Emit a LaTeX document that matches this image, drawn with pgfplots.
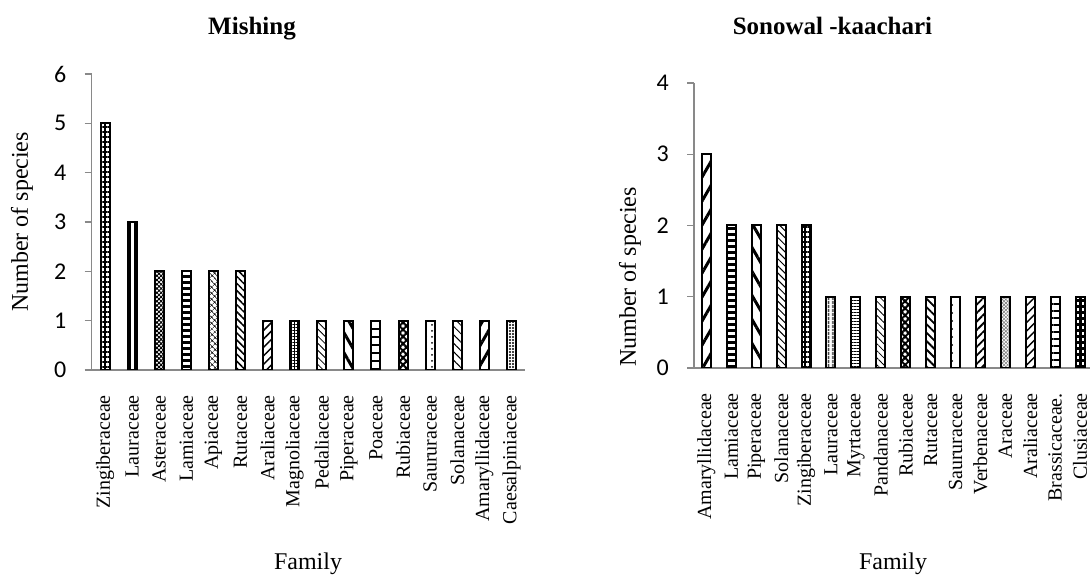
\documentclass[border=0pt]{standalone}
\usepackage{fontspec}
\setmainfont{Liberation Serif}
\newfontfamily\calibri{Carlito}
\usepackage{pgfplots}
\pgfplotsset{compat=1.18}
\usetikzlibrary{patterns,patterns.meta}
\definecolor{axgray}{HTML}{898989}
\pgfplotsset{
  barchart/.style={
    scale only axis,
    axis x line=bottom, axis y line=left,
    axis line style={draw=axgray, line width=1.3pt, -},
    ybar, bar width=9pt, bar shift=0pt,
    ymin=0,
    xmin=-0.5, xmax=15.5,
    xtick={0,...,15},
    xtick style={draw=none},
    ytick style={draw=axgray, line width=1.3pt},
    tick align=outside, major tick length=7pt,
    /pgf/number format/assume math mode=true,
    yticklabel style={font=\calibri\fontsize{24}{24}\selectfont, anchor=east, inner sep=0pt},
    yticklabel shift=18pt,
    xticklabel style={font=\fontsize{20}{20}\selectfont, rotate=90, anchor=east, inner sep=0pt},
    xticklabel shift=18pt,
    every axis plot/.append style={draw=black, line width=2pt},
  }
}
\begin{document}
\begin{tikzpicture}[x=1pt,y=1pt]
\useasboundingbox (0,0) rectangle (1090,577);
% ---------------- Mishing ----------------
\begin{axis}[barchart,
  at={(91.5pt,207pt)}, anchor=south west,
  width=433.5pt, height=296pt,
  ymax=6, ytick={0,1,2,3,4,5,6},
  xticklabels={Zingiberaceae,Lauraceae,Asteraceae,Lamiaceae,Apiaceae,Rutaceae,Araliaceae,Magnoliaceae,Pedaliaceae,Piperaceae,Poaceae,Rubiaceae,Saururaceae,Solanaceae,Amaryllidaceae,Caesalpiniaceae},
]
\addplot[pattern={Hatch[angle=0,distance=5pt,line width=2pt]}] coordinates {(0,5)};
\addplot[pattern={Lines[angle=90,distance=5pt,line width=1.5pt]}] coordinates {(1,3)};
\addplot[pattern={Hatch[angle=45,distance=3pt,line width=1pt]}] coordinates {(2,2)};
\addplot[pattern={Lines[angle=0,distance=6pt,line width=3pt]}] coordinates {(3,2)};
\addplot[pattern={Hatch[angle=45,distance=4pt,line width=0.6pt]}] coordinates {(4,2)};
\addplot[pattern={Lines[angle=-45,distance=5pt,line width=1.5pt]}] coordinates {(5,2)};
\addplot[pattern={Lines[angle=45,distance=6pt,line width=1.5pt]}] coordinates {(6,1)};
\addplot[pattern={Hatch[angle=0,distance=3pt,line width=1pt]}] coordinates {(7,1)};
\addplot[pattern={Lines[angle=-45,distance=5pt,line width=0.8pt]}] coordinates {(8,1)};
\addplot[pattern={Lines[angle=-60,distance=10pt,line width=3pt]}] coordinates {(9,1)};
\addplot[pattern={Lines[angle=0,distance=8pt,line width=1.5pt]}] coordinates {(10,1)};
\addplot[pattern={Hatch[angle=45,distance=5pt,line width=2pt]}] coordinates {(11,1)};
\addplot[pattern={Dots[radius=1pt,distance=6pt]}] coordinates {(12,1)};
\addplot[pattern={Lines[angle=-45,distance=6pt,line width=1pt]}] coordinates {(13,1)};
\addplot[pattern={Lines[angle=60,distance=10pt,line width=3pt]}] coordinates {(14,1)};
\addplot[pattern={Dots[radius=1.2pt,distance=3pt]}] coordinates {(15,1)};
\end{axis}
% ---------------- Sonowal ----------------
\begin{axis}[barchart,
  at={(694pt,209pt)}, anchor=south west,
  width=398.5pt, height=285pt,
  ymax=4, ytick={0,1,2,3,4},
  xticklabels={Amaryllidaceae,Lamiaceae,Piperaceae,Solanaceae,Zingiberaceae,Lauraceae,Myrtaceae,Pandanaceae,Rubiaceae,Rutaceae,Saururaceae,Verbenaceae,Araceae,Araliaceae,Brassicaceae.,Clusiaceae},
]
\addplot[pattern={Lines[angle=60,distance=12pt,line width=3pt]}] coordinates {(0,3)};
\addplot[pattern={Lines[angle=0,distance=6pt,line width=3pt]}] coordinates {(1,2)};
\addplot[pattern={Lines[angle=-60,distance=12pt,line width=3pt]}] coordinates {(2,2)};
\addplot[pattern={Lines[angle=-45,distance=5pt,line width=1pt]}] coordinates {(3,2)};
\addplot[pattern={Hatch[angle=0,distance=5pt,line width=2pt]}] coordinates {(4,2)};
\addplot[pattern={Lines[angle=90,distance=4pt,line width=1.5pt]}] coordinates {(5,1)};
\addplot[pattern={Lines[angle=0,distance=3pt,line width=1pt]}] coordinates {(6,1)};
\addplot[pattern={Lines[angle=-45,distance=5pt,line width=0.8pt]}] coordinates {(7,1)};
\addplot[pattern={Hatch[angle=45,distance=5pt,line width=2pt]}] coordinates {(8,1)};
\addplot[pattern={Lines[angle=-45,distance=6pt,line width=1.8pt]}] coordinates {(9,1)};
\addplot[pattern={Dots[radius=1pt,distance=8pt]}] coordinates {(10,1)};
\addplot[pattern={Lines[angle=45,distance=6pt,line width=1.8pt]}] coordinates {(11,1)};
\addplot[pattern={Hatch[angle=45,distance=2.5pt,line width=0.6pt]}, pattern color=gray] coordinates {(12,1)};
\addplot[pattern={Lines[angle=45,distance=6pt,line width=1.5pt]}] coordinates {(13,1)};
\addplot[pattern={Lines[angle=0,distance=7pt,line width=2pt]}] coordinates {(14,1)};
\addplot[pattern={Hatch[angle=0,distance=6pt,line width=3pt]}] coordinates {(15,1)};
\end{axis}
% ---------------- titles and labels ----------------
\node[anchor=base, font=\bfseries\fontsize{25}{25}\selectfont] at (252,542) {Mishing};
\node[anchor=base, font=\bfseries\fontsize{25}{25}\selectfont] at (832.5,542) {Sonowal -kaachari};
\node[anchor=base, font=\fontsize{24}{24}\selectfont] at (308,7) {Family};
\node[anchor=base, font=\fontsize{24}{24}\selectfont] at (893,7) {Family};
\node[rotate=90, font=\fontsize{24}{24}\selectfont] at (22,355) {Number of species};
\node[rotate=90, font=\fontsize{24}{24}\selectfont] at (630,300) {Number of species};
\end{tikzpicture}
\end{document}
